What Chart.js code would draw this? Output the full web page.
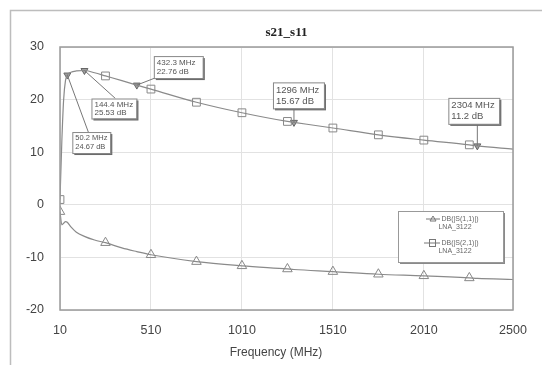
<!DOCTYPE html>
<html>
<head>
<meta charset="utf-8">
<script src="https://cdn.jsdelivr.net/npm/chart.js@4.4.1/dist/chart.umd.min.js"></script>
<style>
  html, body { margin: 0; padding: 0; background: #fff; }
  #wrap { width: 542px; height: 365px; }
</style>
</head>
<body>
<div id="wrap"><canvas id="myChart" width="542" height="365"></canvas></div>
<script>
// curve samples (MHz, dB)
const freqMHz = [10, 20, 30, 40, 50, 70, 100, 144, 200, 260, 350, 432, 510, 760, 1010, 1260, 1296, 1510, 1760, 2010, 2260, 2304, 2500];
const s21Db   = [1.0, 12, 20, 23.6, 24.67, 25.2, 25.45, 25.53, 25.1, 24.5, 23.6, 22.76, 22.0, 19.5, 17.5, 15.85, 15.67, 14.6, 13.3, 12.3, 11.4, 11.2, 10.6];
const s11Db   = [-1.3, -3.8, -3.5, -3.2, -3.3, -4.2, -5.2, -6.0, -6.7, -7.2, -8.2, -8.9, -9.5, -10.8, -11.6, -12.2, -12.3, -12.7, -13.2, -13.5, -13.9, -14.0, -14.2];
// symbol every 250 MHz
const symbolFreqs = [10, 260, 510, 760, 1010, 1260, 1510, 1760, 2010, 2260];

const markerFreq = [50.2, 144.4, 432.3, 1296, 2304];
const markerDb   = [24.67, 25.53, 22.76, 15.67, 11.2];

const xTicks = [10, 510, 1010, 1510, 2010, 2500];
const yTicks = [-20, -10, 0, 10, 20, 30];

const seriesNames = ['DB(|S(1,1)|)', 'DB(|S(2,1)|)'];
const circuitName = 'LNA_3122';

// label box placement relative to marker point
const boxLayout = [
  { dx: 5,   dy: 57,  w: 38, h: 21, ax: 16, ay: 0,  fs: 7.5 },
  { dx: 7,   dy: 28,  w: 45, h: 20, ax: 24, ay: 0,  fs: 8 },
  { dx: 17,  dy: -29, w: 49, h: 22, ax: 1,  ay: 22, fs: 8 },
  { dx: -21, dy: -40, w: 51, h: 26, ax: 21, ay: 26, fs: 9.5 },
  { dx: -29, dy: -48, w: 51, h: 26, ax: 29, ay: 26, fs: 9.5 }
];

const lineCol = '#8a8a8a';

function pts(ys) {
  return freqMHz.map((f, i) => ({ x: f, y: ys[i] }));
}
function symRadius(ctx) {
  const p = ctx.raw;
  return p && symbolFreqs.includes(p.x) ? 5.5 : 0;
}

const decor = {
  id: 'decor',
  beforeDraw(chart) {
    const c = chart.ctx;
    c.save();
    c.fillStyle = '#fff';
    c.fillRect(0, 0, chart.width, chart.height);
    c.strokeStyle = '#bdbdbd';
    c.lineWidth = 1.5;
    c.strokeRect(10.5, 10.5, 600, 400);
    c.restore();
  },
  afterDraw(chart) {
    const c = chart.ctx;
    const a = chart.chartArea;
    const xs = chart.scales.x, ys = chart.scales.y;
    c.save();
    // plot frame
    c.strokeStyle = '#9a9a9a';
    c.lineWidth = 1.5;
    c.strokeRect(a.left, a.top, a.right - a.left, a.bottom - a.top);

    // title
    c.fillStyle = '#222';
    c.font = 'bold 13px "Liberation Serif", serif';
    c.textAlign = 'center';
    c.textBaseline = 'middle';
    c.fillText('s21_s11', (a.left + a.right) / 2, 33);

    // axis title
    c.fillStyle = '#444';
    c.font = '12px "Liberation Sans", Arial, sans-serif';
    c.fillText('Frequency (MHz)', 276, 353);

    // marker boxes
    markerFreq.forEach((f, i) => {
      const px = xs.getPixelForValue(f), py = ys.getPixelForValue(markerDb[i]);
      const L = boxLayout[i];
      const bx = px + L.dx, by = py + L.dy;
      c.strokeStyle = '#777';
      c.lineWidth = 1;
      c.beginPath();
      c.moveTo(px, py);
      c.lineTo(bx + L.ax, by + L.ay);
      c.stroke();
      c.fillStyle = '#6a6a6a';
      c.fillRect(bx + 2, by + 2, L.w, L.h);
      c.fillStyle = '#fff';
      c.fillRect(bx, by, L.w, L.h);
      c.strokeStyle = '#888';
      c.strokeRect(bx + 0.5, by + 0.5, L.w, L.h);
      c.fillStyle = '#555';
      c.font = L.fs + 'px "Liberation Sans", Arial, sans-serif';
      c.textAlign = 'left';
      c.textBaseline = 'middle';
      c.fillText(f + ' MHz', bx + 3, by + L.h * 0.3);
      c.fillText(markerDb[i] + ' dB', bx + 3, by + L.h * 0.72);
    });

    // legend
    const lx = 398, ly = 211, lw = 105, lh = 51;
    c.fillStyle = '#8a8a8a';
    c.fillRect(lx + 2, ly + 2, lw, lh);
    c.fillStyle = '#fff';
    c.fillRect(lx, ly, lw, lh);
    c.strokeStyle = '#999';
    c.strokeRect(lx + 0.5, ly + 0.5, lw, lh);
    c.fillStyle = '#666';
    c.font = '7px "Liberation Sans", Arial, sans-serif';
    c.textAlign = 'center';
    c.fillText(seriesNames[0], 460, 219);
    c.fillText(circuitName, 455, 227);
    c.fillText(seriesNames[1], 460, 243);
    c.fillText(circuitName, 455, 251);
    // legend symbols
    c.strokeStyle = '#777';
    c.beginPath();
    c.moveTo(426, 219); c.lineTo(440, 219);
    c.moveTo(430, 221); c.lineTo(433, 216); c.lineTo(436, 221); c.closePath();
    c.stroke();
    c.beginPath();
    c.moveTo(424, 243); c.lineTo(440, 243);
    c.stroke();
    c.strokeRect(429.5, 239.5, 6, 7);
    c.restore();
  }
};

new Chart(document.getElementById('myChart'), {
  type: 'line',
  data: {
    datasets: [
      {
        label: seriesNames[0],
        data: pts(s11Db),
        borderColor: lineCol,
        borderWidth: 1.2,
        cubicInterpolationMode: 'monotone',
        pointStyle: 'triangle',
        pointRadius: symRadius,
        pointBorderColor: '#888',
        pointBackgroundColor: 'rgba(255,255,255,0)',
        pointBorderWidth: 1
      },
      {
        label: seriesNames[1],
        data: pts(s21Db),
        borderColor: lineCol,
        borderWidth: 1.2,
        cubicInterpolationMode: 'monotone',
        pointStyle: 'rect',
        pointRadius: symRadius,
        pointBorderColor: '#888',
        pointBackgroundColor: 'rgba(255,255,255,0)',
        pointBorderWidth: 1
      },
      {
        label: 'markers',
        data: markerFreq.map((f, i) => ({ x: f, y: markerDb[i] })),
        showLine: false,
        pointStyle: 'triangle',
        rotation: 180,
        pointRadius: 4,
        pointBorderColor: '#666',
        pointBackgroundColor: '#a0a0a0',
        pointBorderWidth: 1
      }
    ]
  },
  options: {
    responsive: false,
    animation: false,
    layout: { padding: { left: 0, top: 47, right: 29, bottom: 0 } },
    plugins: {
      legend: { display: false },
      tooltip: { enabled: false },
      title: { display: false }
    },
    scales: {
      x: {
        type: 'linear',
        min: 10,
        max: 2500,
        afterBuildTicks: (s) => { s.ticks = xTicks.map(v => ({ value: v })); },
        afterFit: (s) => { s.height = 55; },
        grid: { color: '#e2e2e2', drawTicks: false },
        border: { display: false },
        ticks: {
          color: '#444',
          padding: 13,
          maxRotation: 0,
          autoSkip: false,
          callback: (v) => String(v),
          font: { family: '"Liberation Sans", Arial, sans-serif', size: 12.5 }
        }
      },
      y: {
        min: -20,
        max: 30,
        afterBuildTicks: (s) => { s.ticks = yTicks.map(v => ({ value: v })); },
        afterFit: (s) => { s.width = 60; },
        grid: { color: '#e2e2e2', drawTicks: false },
        border: { display: false },
        ticks: {
          color: '#444',
          padding: 16,
          callback: (v) => String(v),
          font: { family: '"Liberation Sans", Arial, sans-serif', size: 12.5 }
        }
      }
    }
  },
  plugins: [decor]
});
</script>
</body>
</html>
